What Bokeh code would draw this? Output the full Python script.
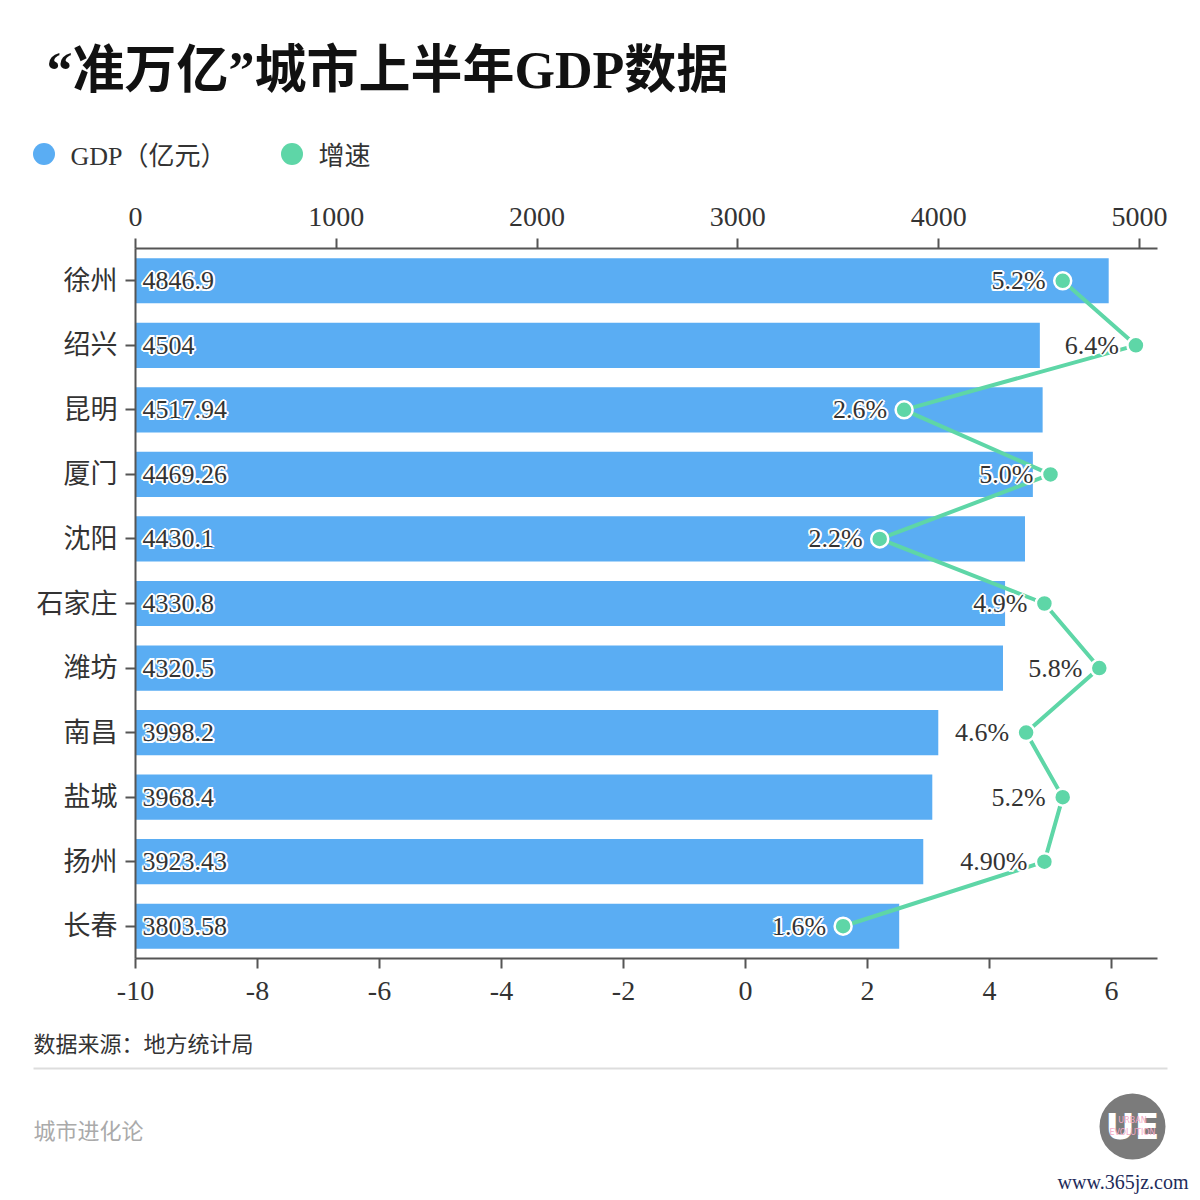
from bokeh.plotting import figure
from bokeh.layouts import column
from bokeh.models import (ColumnDataSource, Range1d, LinearAxis, FactorRange, Label,
                          Legend, LegendItem, BoxAnnotation, FixedTicker)
from bokeh.embed import file_html
from bokeh.resources import INLINE
from bokeh.core.properties import value

# ---------------- data ----------------
cities = ["徐州", "绍兴", "昆明", "厦门", "沈阳", "石家庄", "潍坊", "南昌", "盐城", "扬州", "长春"]
gdp = [4846.9, 4504, 4517.94, 4469.26, 4430.1, 4330.8, 4320.5, 3998.2, 3968.4, 3923.43, 3803.58]
gdp_labels = ["4846.9", "4504", "4517.94", "4469.26", "4430.1", "4330.8", "4320.5",
              "3998.2", "3968.4", "3923.43", "3803.58"]
growth = [5.2, 6.4, 2.6, 5.0, 2.2, 4.9, 5.8, 4.6, 5.2, 4.9, 1.6]
growth_labels = ["5.2%", "6.4%", "2.6%", "5.0%", "2.2%", "4.9%", "5.8%", "4.6%", "5.2%", "4.90%", "1.6%"]
gdp_ticks = [0, 1000, 2000, 3000, 4000, 5000]
growth_ticks = [-10, -8, -6, -4, -2, 0, 2, 4, 6]

title_text = "“准万亿”城市上半年GDP数据"
legend_labels = ["GDP（亿元）", "增速"]
source_text = "数据来源：地方统计局"
brand_text = "城市进化论"
site_text = "www.365jz.com"

# ---------------- style ----------------
BLUE = "#5AADF3"
GREEN = "#5ED6A7"
DARK = "#333333"
AXIS = "#555555"
FONT = "Liberation Serif, Noto Sans CJK SC"
CJK = "Noto Sans CJK SC"
W = 1200
HDR_H, MAIN_H, FTR_H = 190, 830, 180


def blank(h):
    f = figure(width=W, height=h, x_range=Range1d(0, W), y_range=Range1d(h, 0),
               x_axis_type=None, y_axis_type=None, output_backend="svg",
               toolbar_location=None, min_border=0)
    f.outline_line_color = None
    f.background_fill_color = "white"
    f.border_fill_color = "white"
    return f


# ---------------- header ----------------
hdr = blank(HDR_H)
hdr.add_layout(Label(x=46, y=70, text=title_text, text_font=FONT, text_font_size="52px",
                     text_font_style="bold", text_color="#111111", text_baseline="middle"))
nan = float("nan")
r1 = hdr.scatter(x=[nan], y=[nan], marker="circle", size=22, fill_color=BLUE, line_color=None)
r2 = hdr.scatter(x=[nan], y=[nan], marker="circle", size=22, fill_color=GREEN, line_color=None)
legend = Legend(items=[LegendItem(label=legend_labels[0], renderers=[r1]),
                       LegendItem(label=legend_labels[1], renderers=[r2])],
                orientation="horizontal", location=(15.5, 9.5),
                glyph_width=55, glyph_height=55, label_standoff=0, spacing=37,
                padding=0, margin=0, border_line_color=None, background_fill_alpha=0,
                label_text_font=FONT, label_text_font_size="26px", label_text_color=DARK)
hdr.add_layout(legend, "center")

# ---------------- main chart ----------------
src = ColumnDataSource(dict(city=cities, gdp=gdp, gl=gdp_labels, growth=growth, grl=growth_labels))

p = figure(width=W, height=MAIN_H,
           y_range=FactorRange(factors=cities[::-1]),
           x_range=Range1d(0, 5090),
           x_axis_location="above",
           output_backend="svg", toolbar_location=None,
           min_border_left=135, min_border_right=43,
           min_border_top=58, min_border_bottom=62)
p.extra_x_ranges = {"g": Range1d(-10, 6.754)}
p.outline_line_color = None
p.background_fill_color = "white"
p.border_fill_color = "white"
p.grid.visible = False

p.xaxis[0].ticker = FixedTicker(ticks=gdp_ticks)
p.xaxis[0].major_label_overrides = {t: str(t) for t in gdp_ticks}
ax_b = LinearAxis(x_range_name="g", ticker=FixedTicker(ticks=growth_ticks))
ax_b.major_label_overrides = {t: str(t) for t in growth_ticks}
p.add_layout(ax_b, "below")

for ax in p.axis:
    ax.axis_line_color = AXIS
    ax.axis_line_width = 2
    ax.major_tick_line_color = AXIS
    ax.major_tick_line_width = 2
    ax.major_tick_out = 10
    ax.major_tick_in = 0
    ax.minor_tick_line_color = None
    ax.major_label_text_font = FONT
    ax.major_label_text_font_size = "28px"
    ax.major_label_text_color = DARK
    ax.major_label_standoff = 13
p.yaxis.major_label_standoff = 8
p.yaxis.major_label_text_font_size = "27px"

# bars
p.hbar(y="city", left=0, right="gdp", height=0.7, source=src, fill_color=BLUE, line_color=None)

HALO = [(-2, 0), (2, 0), (0, -2), (0, 2), (-1.5, -1.5), (1.5, 1.5), (-1.5, 1.5), (1.5, -1.5)]


def halo_text(x, text, x_offset, align, x_range_name="default"):
    for dx, dy in HALO:
        p.text(x=x, y="city", text=text, source=src, x_range_name=x_range_name,
               x_offset=x_offset + dx, y_offset=dy, text_align=align, text_baseline="middle",
               text_font=value(FONT), text_font_size="26px", text_color="white")
    p.text(x=x, y="city", text=text, source=src, x_range_name=x_range_name,
           x_offset=x_offset, y_offset=0, text_align=align, text_baseline="middle",
           text_font=value(FONT), text_font_size="26px", text_color=DARK)


halo_text(0, "gl", 7, "left")

# growth line
p.line(x="growth", y="city", source=src, x_range_name="g", line_color=GREEN, line_width=4)
halo_text("growth", "grl", -17, "right", "g")
p.scatter(x="growth", y="city", source=src, x_range_name="g", size=17,
          fill_color=GREEN, line_color="white", line_width=2.5)

# ---------------- footer ----------------
ftr = blank(FTR_H)
ftr.add_layout(Label(x=33, y=21, text=source_text, text_font=CJK, text_font_size="22px",
                     text_color=DARK, text_baseline="middle"))
ftr.add_layout(BoxAnnotation(left=33, right=1167, bottom=47, top=49,
                             fill_color="#dddddd", fill_alpha=1, line_color=None))
ftr.add_layout(Label(x=33, y=108, text=brand_text, text_font=CJK, text_font_size="22px",
                     text_color="#aaaaaa", text_baseline="middle"))
ftr.scatter(x=[1132], y=[106], size=66, fill_color="#7b7b7b", line_color=None)
ftr.add_layout(Label(x=1132, y=106, text="UE", text_font="DejaVu Sans", text_font_size="36px",
                     text_font_style="bold", text_color="white", text_align="center",
                     text_baseline="middle"))
ftr.add_layout(Label(x=1132, y=100, text="URBAN", text_font="DejaVu Sans", text_font_size="8px",
                     text_color="#f3a9c6", text_align="center", text_baseline="middle"))
ftr.add_layout(Label(x=1132, y=112, text="EVOLUTION", text_font="DejaVu Sans", text_font_size="8px",
                     text_color="#f3a9c6", text_align="center", text_baseline="middle"))
ftr.add_layout(Label(x=1188, y=161, text=site_text, text_font="Liberation Serif",
                     text_font_size="20px", text_color="#1d2b5a",
                     text_align="right", text_baseline="middle"))


def no_align(f):
    try:
        f.frame_align = False
        return True
    except Exception:
        return False


ok = all([no_align(hdr), no_align(p), no_align(ftr)])
if ok:
    layout = column(hdr, p, ftr, spacing=0)
else:
    layout = column(column(hdr, spacing=0), p, column(ftr, spacing=0), spacing=0)
open("out.html", "w").write(file_html(layout, INLINE))
